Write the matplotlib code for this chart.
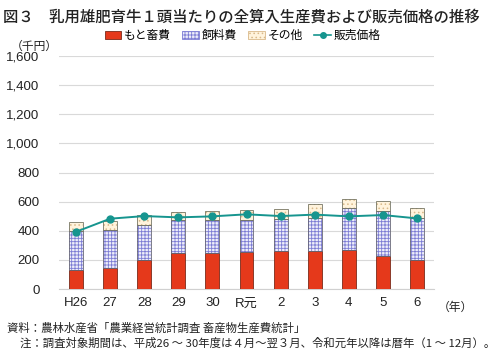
import matplotlib
matplotlib.use("Agg")
import matplotlib.pyplot as plt
from matplotlib.patches import Patch
from matplotlib.lines import Line2D
import numpy as np

plt.rcParams['font.family'] = ['Noto Sans CJK JP', 'DejaVu Sans']
plt.rcParams['hatch.linewidth'] = 0.6

years = ["H26", "27", "28", "29", "30", "R元", "2", "3", "4", "5", "6"]
calf_cost = [133, 147, 202, 246, 244, 253, 264, 258, 267, 230, 198]
feed_cost = [265, 255, 235, 225, 227, 223, 219, 232, 287, 306, 292]
other_cost = [62, 67, 71, 60, 63, 64, 64, 92, 67, 67, 64]
sale_price = [393, 483, 501, 492, 499, 513, 501, 511, 499, 508, 485]

red = "#E5391B"
feed_face = "#EEEEFA"
feed_hatch = "#7C7CD4"
other_face = "#FFF3DC"
other_hatch = "#D9B98A"
teal = "#16958F"
tickfont = ['Liberation Sans', 'Noto Sans CJK JP']

fig = plt.figure(figsize=(5.0, 3.54), dpi=100)
ax = fig.add_axes([0.118, 0.1836, 0.750, 0.658])

x = np.arange(len(years))
w = 0.41
calf = np.array(calf_cost)
feed = np.array(feed_cost)
other = np.array(other_cost)

ax.bar(x, calf, w, color=red, edgecolor="#7A2A1A", linewidth=0.6, zorder=3)
ax.bar(x, feed, w, bottom=calf, color=feed_face, edgecolor=feed_hatch, hatch="+++++", linewidth=0, zorder=3)
ax.bar(x, feed, w, bottom=calf, fill=False, edgecolor="#666677", linewidth=0.6, zorder=3)
ax.bar(x, other, w, bottom=calf + feed, color=other_face, edgecolor=other_hatch, hatch="....", linewidth=0, zorder=3)
ax.bar(x, other, w, bottom=calf + feed, fill=False, edgecolor="#777766", linewidth=0.6, zorder=3)
ax.plot(x, sale_price, color=teal, linewidth=1.4, marker="o", markersize=5, zorder=4)

ax.set_xlim(-0.5, len(years) - 0.5)
ax.set_ylim(0, 1600)
ax.set_yticks(range(0, 1601, 200))
ax.set_yticklabels([f"{v:,}" for v in range(0, 1601, 200)], family=tickfont)
ax.set_xticks(x)
ax.set_xticklabels(years, family=tickfont)
ax.tick_params(axis="both", length=0, labelsize=9.5, colors="#222222")
ax.tick_params(axis="y", pad=14)
ax.tick_params(axis="x", pad=6)
ax.grid(axis="y", color="#D9D9D9", linewidth=0.8, zorder=0)
for s in ["top", "right", "left"]:
    ax.spines[s].set_visible(False)
ax.spines["bottom"].set_color("#D0D0D0")
ax.set_axisbelow(True)

fig.text(0.006, 0.975, "図３　乳用雄肥育牛１頭当たりの全算入生産費および販売価格の推移",
         fontsize=11.1, fontweight="medium", va="top", ha="left", color="#222222")
fig.text(0.022, 0.870, "（千円）", fontsize=8.5, va="center", ha="left", color="#222222")
fig.text(0.875, 0.132, "（年）", fontsize=8.5, va="center", ha="left", color="#222222")

handles = [
    Patch(facecolor=red, edgecolor="#7A2A1A", linewidth=0.6, label="もと畜費"),
    Patch(facecolor=feed_face, edgecolor=feed_hatch, hatch="+++++", linewidth=0.6, label="飼料費"),
    Patch(facecolor=other_face, edgecolor=other_hatch, hatch="....", linewidth=0.6, label="その他"),
    Line2D([0], [0], color=teal, marker="o", markersize=4, linewidth=1.2, label="販売価格"),
]
fig.legend(handles=handles, loc="center", bbox_to_anchor=(0.485, 0.900), ncol=4,
           frameon=False, fontsize=8.5, handlelength=1.4, handleheight=0.7,
           handletextpad=0.2, columnspacing=1.0)

fig.text(0.014, 0.072, "資料：農林水産省「農業経営統計調査 畜産物生産費統計」",
         fontsize=8.2, va="center", ha="left", color="#222222")
fig.text(0.040, 0.030, "注：調査対象期間は、平成26 〜 30年度は４月〜翌３月、令和元年以降は暦年（1 〜 12月）。",
         fontsize=8.2, va="center", ha="left", color="#222222")

fig.savefig("out.png", dpi=100)
